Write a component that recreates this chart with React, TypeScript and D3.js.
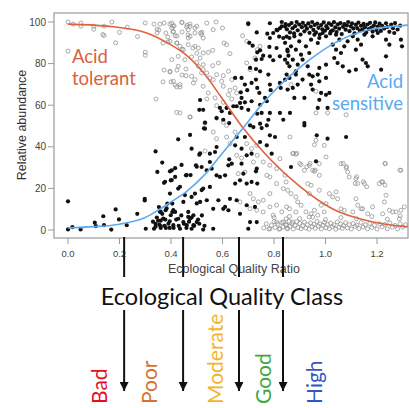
import * as d3 from 'd3';
import React, { useRef, useEffect } from 'react';

const xTicks = [0, 0.2, 0.4, 0.6, 0.8, 1.0, 1.2];
const yTicks = [0, 20, 40, 60, 80, 100];
const classNames = ['Bad', 'Poor', 'Moderate', 'Good', 'High'];
const classColors = ['#e0101e', '#d4742e', '#f2b52a', '#3fa83f', '#2f58c6'];
const classBounds = [0.218, 0.447, 0.664, 0.835];
const classLabelEqr = [0.15, 0.345, 0.6, 0.79, 0.985];

// fitted curves
const tolerantCurve = [
  [0, 99], [0.15, 98], [0.3, 95], [0.4, 89], [0.45, 85], [0.53, 75], [0.6, 63], [0.68, 49],
  [0.785, 34], [0.9, 21], [1.03, 10], [1.18, 4], [1.32, 1.5],
];
const sensitiveCurve = [
  [0, 1], [0.1, 1.6], [0.2, 2.8], [0.3, 6], [0.35, 9.5], [0.4, 13.5], [0.46, 18.5], [0.53, 26.5],
  [0.6, 37], [0.68, 49], [0.75, 60], [0.835, 71], [0.94, 82], [1.03, 89.5], [1.16, 96], [1.32, 98.5],
];

// acid tolerant taxa (open circles)
const tolerantPts = [
  [0, 100], [0.02, 99], [0.05, 99.5], [0.05, 98], [0.1, 98], [0.1, 96.5], [0.14, 98], [0.17, 100], [0.14, 93.5],
  [0.2, 95], [0.23, 97.5], [0.185, 90], [0, 86], [0.3, 99.5], [0.3, 85.5], [0.3, 84], [0.27, 93], [0.135, 94],
  [0.334, 99], [0.357, 99], [0.373, 99.5], [0.396, 99], [0.408, 98], [0.443, 99.8], [0.462, 98.5], [0.474, 99],
  [0.5, 98], [0.52, 95], [0.346, 96.6], [0.353, 96.2], [0.346, 94.7], [0.38, 94.7], [0.388, 92.8], [0.408, 95.2],
  [0.423, 93.3], [0.443, 95.2], [0.466, 93.8], [0.493, 94.7], [0.369, 89.9], [0.388, 90.4], [0.423, 89.9],
  [0.443, 87], [0.485, 87.5], [0.5, 85], [0.513, 82.7], [0.373, 76.9], [0.396, 76], [0.423, 76.9], [0.443, 74.5],
  [0.369, 71.2], [0.4, 71.2], [0.416, 69.7], [0.435, 68.8], [0.342, 63], [0.435, 56.3], [0.474, 54.3],
  [0.403, 99.5], [0.412, 98.2], [0.403, 97.1], [0.409, 95.5], [0.416, 93.4], [0.442, 99.8], [0.461, 97.6],
  [0.467, 96.3], [0.474, 97.9], [0.493, 97.1], [0.474, 93.1], [0.467, 92.3], [0.519, 93.9], [0.525, 92.3],
  [0.515, 94.7], [0.539, 99.5], [0.564, 96.3], [0.6, 97.1], [0.575, 100], [0.396, 90.7], [0.422, 89.9],
  [0.448, 86.7], [0.435, 88.3], [0.467, 89.1], [0.493, 88.3], [0.506, 87.5], [0.525, 85.1], [0.545, 85.4],
  [0.562, 86.4], [0.606, 89.9], [0.616, 89.1], [0.629, 84.8], [0.403, 81.9], [0.428, 83.5], [0.454, 81.9],
  [0.48, 83.2], [0.5, 80.6], [0.525, 79.5], [0.562, 79], [0.584, 80.3], [0.428, 78.7], [0.458, 77.4],
  [0.506, 78.7], [0.519, 75.5], [0.525, 77.1], [0.396, 76.3], [0.409, 71.5], [0.435, 69.9], [0.458, 74.2],
  [0.48, 73.9], [0.493, 72.3], [0.539, 75.5], [0.551, 73.1], [0.577, 74.7], [0.603, 74.2], [0.623, 76.3],
  [0.636, 72.3], [0.629, 67.2], [0.422, 68.8], [0.487, 70.7], [0.525, 69.1], [0.564, 72.3], [0.597, 71.5],
  [0.545, 65.9], [0.571, 63.5], [0.603, 69.1], [0.539, 63], [0.577, 59.8], [0.603, 61.4], [0.422, 56.6],
  [0.474, 54.3], [0.532, 51.4], [0.577, 53.8], [0.603, 51.8], [0.694, 80.3], [0.726, 82.7], [0.707, 77.1],
  [0.623, 65], [0.636, 63], [0.649, 68.3], [0.655, 65.9], [0.746, 88.3], [0.735, 86.7], [0.678, 93.4],
  [0.694, 90.7], [0.866, 69.9], [0.963, 66.7], [0.963, 56.3], [1.008, 56.3], [1.08, 55.4],
  [0.629, 41.5], [0.694, 41.5], [0.713, 39.1], [0.733, 40.7], [0.72, 32.7], [0.735, 35.9], [0.758, 32.7],
  [0.784, 31.1], [0.81, 29.5], [0.843, 26.3], [0.823, 34.3], [0.655, 35.9], [0.674, 34.6], [0.687, 27.9],
  [0.772, 26.3], [0.784, 25.5], [0.81, 22.3], [0.836, 19.9], [0.784, 17.5], [0.758, 14.3], [0.72, 15],
  [0.739, 13.5], [0.707, 10.2], [0.733, 9.5], [0.758, 8.7], [0.784, 11.1], [0.81, 11.9], [0.797, 7.1],
  [0.83, 8.7], [0.849, 11.1], [0.81, 3.8], [0.836, 3.8], [0.784, 0.6], [0.823, 0.6], [0.849, 2.3],
  [0.564, 47.1], [0.577, 43.9], [0.616, 44.7], [0.616, 50.3], [0.649, 47.1], [0.661, 27.1], [0.668, 13.5],
  [0.707, 17.5], [0.532, 38], [0.862, 44.7], [0.963, 43.1], [0.957, 41], [0.995, 40.7], [0.873, 36.7],
  [0.885, 36.4], [0.905, 31.4], [0.937, 31.1], [0.918, 28.7], [0.95, 28.7], [0.957, 28.2], [0.976, 26.3],
  [1.002, 35.1], [0.976, 31.9], [1.06, 31.9], [1.08, 29.8], [1.086, 27.9], [1.092, 25.5], [1.118, 24.7],
  [1.125, 22.3], [1.151, 22.3], [1.232, 31.9], [1.293, 28.7], [1.222, 23.1], [1.209, 22.3], [1.235, 16.7],
  [1.229, 13.5], [0.931, 22.3], [0.944, 21.5], [0.976, 19.1], [0.937, 17.5], [0.847, 23.1], [0.853, 19.1],
  [0.866, 17.5], [0.885, 15.9], [0.892, 13.5], [0.86, 10.2], [0.885, 8.7], [0.847, 5.4], [0.873, 3.8],
  [0.853, 0.6], [0.905, 11.9], [0.924, 8.7], [0.944, 7.8], [0.957, 9.5], [0.937, 6.3], [0.97, 7.1],
  [0.995, 8.7], [1.015, 17.5], [1.028, 15.9], [1.041, 18.3], [1.047, 15], [1.06, 10.2], [1.073, 9.5],
  [1.002, 12.7], [0.983, 11.9], [1.118, 15], [1.125, 11.9], [1.138, 10.2], [1.144, 10.2], [1.106, 8.7],
  [1.164, 7.8], [1.183, 11.1], [1.222, 7.8], [1.248, 9.5], [1.261, 8.7], [1.274, 8.7], [1.293, 9.5],
  [1.306, 11.1], [1.287, 5.4], [0.875, 36.9], [0.888, 36.9], [0.9, 32], [0.94, 32], [0.96, 28.8],
  [0.927, 30.4], [1.069, 32], [1.082, 30.4], [1.121, 25.6], [1.147, 23.2], [1.16, 20.8], [1.115, 22.4],
  [1.218, 23.2], [1.231, 21.6], [1.289, 28.8], [1.231, 32],
  [0.76, 1], [0.77, 3], [0.78, 0.5], [0.79, 2.2], [0.8, 4], [0.805, 1.2], [0.815, 2.8], [0.82, 0.4], [0.83, 3.6],
  [0.835, 1.5], [0.845, 2.6], [0.85, 0.8], [0.858, 4.2], [0.862, 1.8], [0.87, 3], [0.875, 0.5], [0.882, 2.2],
  [0.888, 4], [0.893, 1.2], [0.9, 3.2], [0.905, 0.6], [0.912, 2], [0.918, 3.8], [0.923, 1], [0.93, 2.6],
  [0.936, 0.4], [0.942, 3.4], [0.948, 1.6], [0.955, 2.8], [0.96, 0.8], [0.967, 4.1], [0.972, 1.9], [0.978, 3],
  [0.984, 0.5], [0.99, 2.3], [0.996, 3.7], [1.002, 1.1], [1.008, 2.7], [1.015, 0.6], [1.02, 3.3], [1.027, 1.6],
  [1.033, 2.5], [1.04, 0.4], [1.046, 3.9], [1.052, 1.3], [1.058, 2.9], [1.065, 0.8], [1.07, 2.1], [1.078, 3.5],
  [1.085, 1], [1.092, 2.6], [1.1, 0.5], [1.107, 3.1], [1.115, 1.7], [1.122, 2.4], [1.13, 0.7], [1.138, 3.6],
  [1.146, 1.4], [1.155, 2.5], [1.163, 0.6], [1.172, 3.2], [1.18, 1.2], [1.19, 2.3], [1.2, 0.5], [1.21, 3],
  [1.22, 1.5], [1.23, 2.7], [1.24, 0.6], [1.25, 3.4], [1.26, 1.3], [1.27, 2.2], [1.28, 0.5], [1.29, 3],
  [1.3, 1.4], [1.31, 2.5], [0.8, 6], [0.86, 6.5], [0.9, 5.5], [0.95, 6.2], [1.0, 5], [1.06, 6], [1.12, 5.4],
  [1.18, 6.5], [1.24, 5.2], [1.29, 6.8],
];

// acid sensitive taxa (filled dots)
const sensitivePts = [
  [0, 13.8], [0, 0.3], [0.017, 1.4], [0.049, 0.3], [0.104, 3.5], [0.108, 1.9], [0.137, 6.6], [0.14, 2.3],
  [0.168, 0.2], [0.185, 9.9], [0.198, 5.1], [0.228, 2.3], [0.269, 7.8], [0.298, 15], [0.298, 14.2],
  [0.302, 0.6], [0.334, 0.6], [0.34, 37.8], [0.347, 27.9], [0.366, 32.4], [0.373, 22.7], [0.396, 28.2],
  [0.399, 23.9], [0.353, 11], [0.36, 8.7], [0.366, 7.8], [0.379, 9.5], [0.34, 3], [0.355, 2.5], [0.36, 4.5],
  [0.36, 1.9], [0.34, 1.6], [0.35, 4.5], [0.378, 5], [0.39, 3], [0.395, 4.2], [0.375, 2], [0.36, 1],
  [0.38, 1], [0.395, 1], [0.41, 1], [0.405, 12.7], [0.405, 8.6], [0.386, 12.7],
  [0.428, 43.6], [0.474, 45.7], [0.441, 31.3], [0.416, 29.7], [0.377, 23.2], [0.435, 20.8], [0.403, 24],
  [0.461, 26.4], [0.476, 26.4], [0.5, 30.4], [0.513, 36.9], [0.528, 48.9], [0.454, 16.8], [0.519, 19.2],
  [0.5, 12.8], [0.383, 10.4], [0.409, 9.6], [0.357, 8.8],
  [0.33, 4], [0.345, 6], [0.37, 5.5], [0.42, 5], [0.43, 2], [0.44, 7], [0.45, 3], [0.46, 1], [0.47, 4],
  [0.48, 6], [0.49, 2], [0.505, 5], [0.51, 3], [0.52, 7], [0.53, 2],
  [0.532, 48.7], [0.532, 51.6], [0.577, 39.9], [0.551, 36.7], [0.571, 37.5], [0.51, 36.2], [0.48, 39.1],
  [0.403, 28.7], [0.416, 25.5], [0.458, 26.3], [0.497, 31.1], [0.519, 30.3], [0.551, 32.7], [0.558, 29.5],
  [0.539, 28.7], [0.577, 26.3], [0.59, 25.5], [0.61, 26.3], [0.623, 31.1], [0.636, 31.9], [0.626, 34],
  [0.649, 22.3], [0.668, 23.9], [0.694, 22.3], [0.713, 23.1], [0.735, 22.3], [0.681, 27.1], [0.73, 28.2],
  [0.674, 31.9], [0.694, 35.9], [0.713, 36.7], [0.674, 39.1], [0.649, 40.7], [0.655, 44.7], [0.687, 44.7],
  [0.707, 50.3], [0.72, 49.5], [0.746, 51.1], [0.772, 50.3], [0.784, 45.5], [0.804, 44.7], [0.772, 40.7],
  [0.746, 42.3], [0.752, 49], [0.733, 29.5], [0.791, 36.7],
  [0.396, 17.5], [0.428, 19.9], [0.448, 13.5], [0.48, 15.9], [0.493, 17.5], [0.513, 13.5], [0.539, 14.3],
  [0.525, 19.9], [0.551, 20.7], [0.564, 10.2], [0.584, 14.3], [0.603, 10.2], [0.61, 11.1], [0.629, 15],
  [0.655, 14.3], [0.668, 7.8], [0.623, 9.5], [0.726, 11.1], [0.694, 11.9], [0.707, 3.8], [0.733, 3.8],
  [0.7, 0.6], [0.428, 5.4], [0.448, 3.8], [0.467, 8.7], [0.467, 6.3], [0.474, 5.4], [0.487, 7.1], [0.5, 3.8],
  [0.409, 2.3], [0.435, 0.6], [0.48, 0.6], [0.525, 0.2], [0.564, 0.6], [0.461, 2.3], [0.487, 2.3],
  [0.399, 7.1], [0.416, 8.7],
  [0.513, 62.5], [0.7, 99], [0.733, 95], [0.704, 90], [0.717, 88.6], [0.746, 86.4], [0.735, 85.4],
  [0.758, 83.8], [0.752, 82.2], [0.784, 83.5], [0.782, 88], [0.784, 92.3], [0.774, 94.4], [0.797, 94.7],
  [0.813, 96], [0.823, 97], [0.83, 97.9], [0.82, 93], [0.836, 92.3], [0.849, 93], [0.843, 90], [0.81, 87.5],
  [0.852, 86.7], [0.823, 83.5], [0.843, 81.9], [0.856, 83.8], [0.852, 80.3], [0.797, 81.6], [0.73, 81.9],
  [0.649, 73.1], [0.674, 73.1], [0.707, 77.9], [0.73, 77.4], [0.746, 76.3], [0.687, 69.9], [0.713, 70.7],
  [0.671, 66.2], [0.696, 67.2], [0.674, 63.5], [0.73, 72.3], [0.735, 68.3], [0.743, 65.9], [0.778, 74.7],
  [0.784, 69.9], [0.787, 67.2], [0.823, 70.7], [0.826, 68.3], [0.843, 72.3], [0.849, 74.7], [0.765, 63.5],
  [0.772, 61.9], [0.746, 60.2], [0.713, 61.9], [0.687, 61.4], [0.668, 61.1], [0.655, 59.5], [0.674, 58.7],
  [0.7, 57.8], [0.642, 59.5], [0.629, 56.3], [0.616, 58.7], [0.59, 58.7], [0.597, 57.1], [0.577, 53.8],
  [0.603, 53], [0.626, 51.4], [0.735, 55.9], [0.752, 56.3], [0.784, 56.3], [0.778, 53], [0.823, 56.3],
  [0.836, 53], [0.51, 57.8], [0.525, 57.8], [0.7, 99.4], [0.784, 99.4], [0.83, 100], [0.843, 97.8],
  [0.81, 96.2],
  [0.86, 92.3], [0.879, 93.1], [0.898, 90.7], [0.866, 88.3], [0.853, 85.9], [0.885, 86.7], [0.905, 84.3],
  [0.873, 81.9], [0.86, 78.7], [0.892, 79.5], [0.911, 81.9], [0.924, 88.3], [0.944, 91.5], [0.937, 85.1],
  [0.957, 93.9], [0.97, 89.9], [0.976, 92.3], [0.989, 94.7], [1.002, 93.1], [1.021, 95.5], [1.041, 93.9],
  [1.054, 91.5], [1.028, 89.1], [1.041, 86.7], [1.06, 85.1], [1.034, 82.7], [1.047, 80.3], [1.073, 88.3],
  [1.086, 90.7], [1.106, 93.1], [1.125, 91.5], [1.138, 89.1], [1.118, 86.7], [1.151, 93.9], [1.183, 93.1],
  [1.203, 94.7], [1.235, 91.5], [1.248, 89.1], [1.267, 94.7], [1.293, 91.5], [1.297, 88.3], [1.235, 83.5],
  [1.144, 81.9], [1.157, 80.3], [1.067, 78.7], [1.092, 76.3], [1.002, 79.5], [0.976, 77.9], [0.97, 74.7],
  [0.95, 73.9], [0.931, 78.7], [0.937, 74.7], [0.885, 74.7], [0.911, 72.3], [0.892, 69.9], [0.873, 68.3],
  [0.853, 67.5], [0.944, 69.9], [0.95, 67.5], [0.976, 71.5], [1.002, 73.1], [0.983, 65.9], [1.002, 65],
  [1.015, 65.9], [0.976, 62.6], [0.97, 58.7], [1.008, 58.7], [0.918, 63.5], [0.879, 63.5], [0.862, 56.3],
  [0.918, 51.4], [1.118, 77.1], [1.216, 77.1], [1.164, 78.7], [0.86, 73.1], [0.885, 76.3],
  [0.918, 50.3], [0.966, 45.5], [1.008, 43.9], [1.08, 44.7], [0.963, 33], [0.866, 30.3],
  [0.845, 99], [0.85, 96.5], [0.858, 98.5], [0.862, 95], [0.868, 99.5], [0.872, 97], [0.878, 94.5],
  [0.882, 98], [0.888, 100], [0.892, 96], [0.898, 98.8], [0.903, 94], [0.908, 97.5], [0.912, 99.6],
  [0.918, 95.5], [0.922, 98.2], [0.928, 96.8], [0.933, 99.3], [0.938, 94.8], [0.943, 97.8], [0.948, 100],
  [0.953, 96.2], [0.958, 98.6], [0.963, 95], [0.968, 99.2], [0.973, 97.2], [0.978, 94], [0.983, 98.5],
  [0.988, 96.5], [0.993, 99.8], [0.998, 95.8], [1.003, 98], [1.008, 97], [1.013, 99.4], [1.018, 94.5],
  [1.023, 98.6], [1.028, 96], [1.033, 99.9], [1.038, 97.4], [1.043, 95.2], [1.048, 98.9], [1.053, 96.8],
  [1.058, 99.5], [1.063, 94.2], [1.068, 97.7], [1.073, 99], [1.078, 96.3], [1.083, 98.4], [1.088, 100],
  [1.093, 95.6], [1.098, 97.9], [1.103, 99.3], [1.108, 96.9], [1.113, 94.6], [1.118, 98.7], [1.123, 97.1],
  [1.128, 99.7], [1.133, 95.9], [1.138, 98.2], [1.143, 96.4], [1.148, 99.1], [1.153, 97.5], [1.158, 94.9],
  [1.163, 98.8], [1.168, 96.6], [1.173, 99.6], [1.178, 97.3], [1.183, 95.4], [1.188, 98.3], [1.193, 99.8],
  [1.198, 96.1], [1.203, 97.8], [1.21, 99.2], [1.215, 95.7], [1.22, 98.1], [1.228, 96.9], [1.235, 99.4],
  [1.24, 97.6], [1.248, 95.3], [1.255, 98.7], [1.262, 97], [1.27, 99.5], [1.28, 96.4], [1.29, 98.3],
];

function EqrChart({ width, height }) {
  const ref = useRef(null);

  useEffect(() => {
    const svg = d3.select(ref.current);
    svg.selectAll('*').remove();

    const box = { left: 54, top: 13, right: 408, bottom: 238 };
    const x = d3.scaleLinear().domain([0, 1.2]).range([68, 377]);
    const y = d3.scaleLinear().domain([0, 100]).range([230, 22]);
    const axisFont = '"Liberation Sans", Arial, sans-serif';
    const calibri = 'Lato, "Open Sans", sans-serif';

    svg.append('clipPath').attr('id', 'plotclip')
      .append('rect')
      .attr('x', box.left).attr('y', box.top)
      .attr('width', box.right - box.left).attr('height', box.bottom - box.top);

    const plot = svg.append('g').attr('clip-path', 'url(#plotclip)');

    plot.selectAll('.tol')
      .data(tolerantPts)
      .enter()
      .append('circle')
      .attr('cx', d => x(d[0]))
      .attr('cy', d => y(d[1]))
      .attr('r', 2)
      .attr('fill', 'none')
      .attr('stroke', '#8f8f8f')
      .attr('stroke-width', 0.75);

    plot.selectAll('.sens')
      .data(sensitivePts)
      .enter()
      .append('circle')
      .attr('cx', d => x(d[0]))
      .attr('cy', d => y(d[1]))
      .attr('r', 2.1)
      .attr('fill', '#111');

    const line = d3.line().x(d => x(d[0])).y(d => y(d[1])).curve(d3.curveMonotoneX);
    plot.append('path').attr('d', line(tolerantCurve))
      .attr('fill', 'none').attr('stroke', '#e0613f').attr('stroke-width', 1.6);
    plot.append('path').attr('d', line(sensitiveCurve))
      .attr('fill', 'none').attr('stroke', '#5caaf0').attr('stroke-width', 1.6);

    // frame
    svg.append('rect')
      .attr('x', box.left).attr('y', box.top)
      .attr('width', box.right - box.left).attr('height', box.bottom - box.top)
      .attr('fill', 'none').attr('stroke', '#9a9a9a').attr('stroke-width', 1.2);

    // y axis
    const yAxis = svg.append('g');
    yTicks.forEach(t => {
      yAxis.append('line')
        .attr('x1', box.left - 6).attr('x2', box.left)
        .attr('y1', y(t)).attr('y2', y(t))
        .attr('stroke', '#9a9a9a');
      yAxis.append('text')
        .attr('x', box.left - 8).attr('y', y(t) + 3.5)
        .attr('text-anchor', 'end')
        .attr('font-family', axisFont).attr('font-size', 10)
        .attr('fill', '#444')
        .text(t);
    });
    svg.append('text')
      .attr('transform', 'translate(26,' + 125 + ') rotate(-90)')
      .attr('text-anchor', 'middle')
      .attr('font-family', axisFont).attr('font-size', 12.5)
      .attr('fill', '#333')
      .text('Relative abundance');

    // x axis
    const xAxis = svg.append('g');
    xTicks.forEach(t => {
      xAxis.append('line')
        .attr('x1', x(t)).attr('x2', x(t))
        .attr('y1', box.bottom).attr('y2', box.bottom + 6)
        .attr('stroke', '#9a9a9a');
      xAxis.append('text')
        .attr('x', x(t)).attr('y', box.bottom + 19)
        .attr('text-anchor', 'middle')
        .attr('font-family', axisFont).attr('font-size', 9.5)
        .attr('fill', '#444')
        .text(d3.format('.1f')(t));
    });
    svg.append('text')
      .attr('x', 234).attr('y', 273)
      .attr('text-anchor', 'middle')
      .attr('font-family', axisFont).attr('font-size', 12.5)
      .attr('fill', '#444')
      .text('Ecological Quality Ratio');

    // curve labels
    const label = (txt, lx, ly, color, anchor) => {
      svg.append('text')
        .attr('x', lx).attr('y', ly)
        .attr('text-anchor', anchor)
        .attr('font-family', calibri).attr('font-size', 18.5)
        .attr('fill', color)
        .text(txt);
    };
    label('Acid', 72, 62.5, '#d9603c', 'start');
    label('tolerant', 72, 85, '#d9603c', 'start');
    label('Acid', 403, 87.5, '#5aaaf0', 'end');
    label('sensitive', 403, 110, '#5aaaf0', 'end');

    // class boundaries and arrows
    svg.append('defs').append('marker')
      .attr('id', 'arrow')
      .attr('viewBox', '0 0 10 10')
      .attr('refX', 10).attr('refY', 5)
      .attr('markerWidth', 4.5).attr('markerHeight', 4.5)
      .attr('markerUnits', 'strokeWidth')
      .attr('orient', 'auto')
      .append('path').attr('d', 'M0,0 L10,5 L0,10 z').attr('fill', '#111');

    classBounds.forEach(b => {
      svg.append('line')
        .attr('x1', x(b)).attr('x2', x(b))
        .attr('y1', box.bottom - 1).attr('y2', 277)
        .attr('stroke', '#111').attr('stroke-width', 2);
      svg.append('line')
        .attr('x1', x(b)).attr('x2', x(b))
        .attr('y1', 310).attr('y2', 391)
        .attr('stroke', '#111').attr('stroke-width', 2)
        .attr('marker-end', 'url(#arrow)');
    });

    svg.append('text')
      .attr('x', 222).attr('y', 305)
      .attr('text-anchor', 'middle')
      .attr('font-family', calibri).attr('font-size', 23.5)
      .attr('fill', '#111')
      .text('Ecological Quality Class');

    classNames.forEach((name, i) => {
      svg.append('text')
        .attr('transform', 'translate(' + x(classLabelEqr[i]) + ',404) rotate(-90)')
        .attr('font-family', calibri).attr('font-size', 21)
        .attr('fill', classColors[i])
        .text(name);
    });
  }, []);

  return (
    <svg ref={ref} width={width} height={height}
      style={{ position: 'absolute', left: 0, top: 0, background: '#fff' }} />
  );
}

export default function App() {
  return <EqrChart width={409} height={408} />;
}
